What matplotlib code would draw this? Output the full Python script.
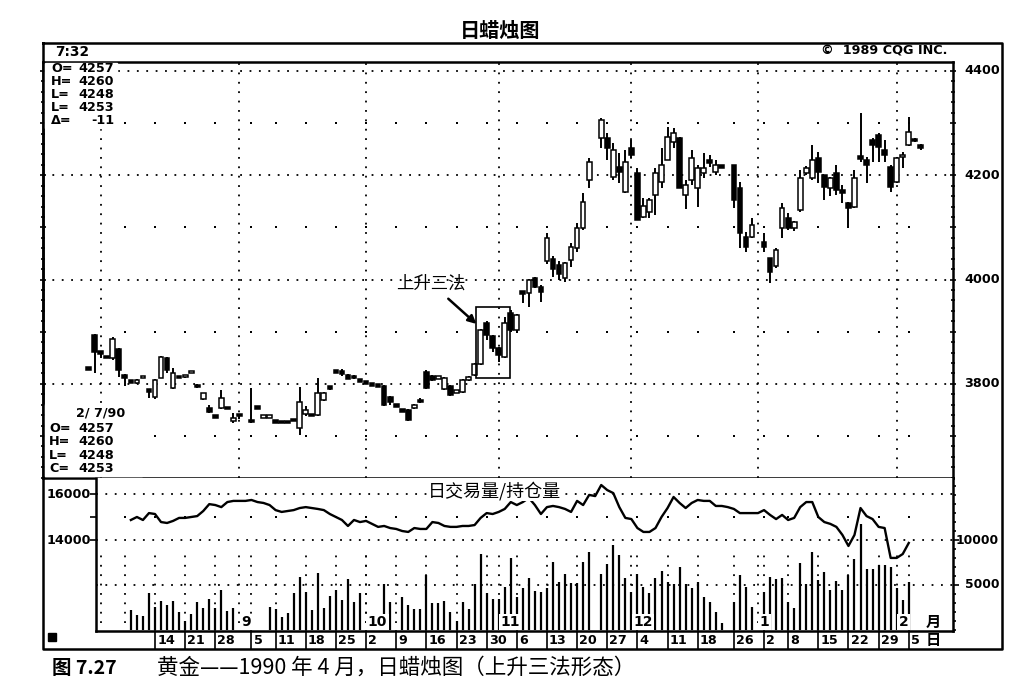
import matplotlib
matplotlib.use("Agg")
import matplotlib.pyplot as plt
import matplotlib.transforms as mtransforms
from matplotlib.patches import Rectangle
from matplotlib.ticker import MultipleLocator

plt.rcParams['font.family'] = ['DejaVu Sans', 'Noto Sans CJK SC']
CJK = ['Noto Sans CJK SC', 'DejaVu Sans']

# ---- data ---------------------------------------------------------------
# x = weekday index counted from Mon 14 Aug 1989; exchange holidays stay empty
holidays = [15, 73, 95, 100]
days = [d for d in range(-11, 128) if d not in holidays]

opens = [3831, 3894, 3861, 3852, 3850, 3867, 3817, 3805, 3801, 3813,
         3788, 3775, 3812, 3850, 3792, 3813, 3813, 3822, 3798, 3771,
         3754, 3739, 3754, 3754, 3729, 3742, 3730, 3756, 3737, 3736,
         3729, 3727, 3727, 3731, 3715, 3742, 3740, 3740, 3769, 3794,
         3824, 3825, 3817, 3815, 3808, 3804, 3800, 3798, 3796, 3775,
         3760, 3750, 3750, 3756, 3769, 3823, 3815, 3811, 3790, 3796,
         3784, 3784, 3808, 3817, 3838, 3917, 3892, 3869, 3852, 3936,
         3903, 3976, 3975, 4003, 3986, 4036, 4040, 4028, 4003, 4038,
         4061, 4099, 4191, 4272, 4272, 4197, 4216, 4168, 4252, 4204,
         4120, 4130, 4162, 4187, 4229, 4264, 4272, 4162, 4191, 4176,
         4204, 4229, 4206, 4217, 4220, 4176, 4082, 4082, 4072, 4041,
         4026, 4099, 4118, 4099, 4133, 4204, 4195, 4233, 4201, 4176,
         4204, 4172, 4147, 4139, 4237, 4229, 4268, 4277, 4249, 4216,
         4187, 4235, 4258, 4268, 4257]
highs = [3833, 3896, 3863, 3853, 3890, 3869, 3819, 3806, 3810, 3815,
         3790, 3810, 3853, 3852, 3831, 3814, 3818, 3825, 3799, 3783,
         3760, 3740, 3788, 3755, 3744, 3743, 3792, 3758, 3740, 3740,
         3731, 3728, 3728, 3732, 3794, 3758, 3741, 3811, 3784, 3796,
         3825, 3829, 3819, 3817, 3810, 3806, 3802, 3800, 3798, 3777,
         3762, 3752, 3752, 3762, 3773, 3827, 3817, 3815, 3813, 3798,
         3788, 3810, 3815, 3840, 3905, 3920, 3894, 3871, 3928, 3942,
         3934, 3977, 4001, 4005, 3990, 4090, 4045, 4035, 4034, 4070,
         4109, 4166, 4233, 4310, 4281, 4262, 4243, 4249, 4268, 4214,
         4156, 4156, 4214, 4252, 4293, 4291, 4274, 4191, 4249, 4220,
         4243, 4239, 4229, 4218, 4220, 4187, 4091, 4118, 4089, 4041,
         4061, 4147, 4128, 4112, 4210, 4218, 4258, 4245, 4201, 4197,
         4220, 4181, 4149, 4210, 4319, 4235, 4272, 4281, 4268, 4220,
         4235, 4245, 4312, 4272, 4260]
lows = [3826, 3821, 3850, 3850, 3846, 3813, 3796, 3803, 3800, 3812,
        3773, 3771, 3811, 3821, 3790, 3812, 3812, 3821, 3793, 3770,
        3744, 3734, 3752, 3753, 3725, 3733, 3725, 3752, 3735, 3735,
        3726, 3726, 3726, 3730, 3702, 3738, 3739, 3738, 3767, 3788,
        3821, 3815, 3809, 3810, 3804, 3800, 3796, 3794, 3758, 3760,
        3756, 3746, 3729, 3752, 3763, 3790, 3806, 3809, 3788, 3777,
        3782, 3782, 3806, 3815, 3836, 3884, 3861, 3842, 3850, 3900,
        3901, 3955, 3948, 3984, 3957, 4030, 4005, 4000, 3995, 4024,
        4053, 4095, 4176, 4252, 4229, 4191, 4185, 4166, 4233, 4114,
        4118, 4118, 4124, 4176, 4229, 4252, 4176, 4135, 4181, 4139,
        4195, 4216, 4201, 4215, 4137, 4061, 4053, 4080, 4053, 3993,
        4022, 4080, 4095, 4094, 4130, 4201, 4191, 4185, 4153, 4160,
        4162, 4147, 4101, 4137, 4226, 4185, 4226, 4226, 4226, 4168,
        4185, 4214, 4256, 4264, 4248]
closes = [3827, 3861, 3859, 3851, 3886, 3827, 3811, 3804, 3808, 3814,
          3786, 3808, 3851, 3827, 3821, 3813, 3817, 3823, 3794, 3782,
          3746, 3735, 3773, 3754, 3735, 3738, 3727, 3754, 3739, 3739,
          3727, 3727, 3727, 3731, 3765, 3750, 3740, 3782, 3782, 3792,
          3823, 3819, 3810, 3812, 3806, 3802, 3798, 3796, 3760, 3765,
          3758, 3748, 3731, 3758, 3765, 3792, 3808, 3813, 3811, 3779,
          3786, 3808, 3813, 3838, 3903, 3894, 3869, 3855, 3917, 3903,
          3932, 3974, 3999, 3986, 3976, 4080, 4020, 4010, 4032, 4063,
          4099, 4149, 4226, 4306, 4252, 4249, 4206, 4226, 4239, 4114,
          4141, 4153, 4204, 4220, 4273, 4281, 4176, 4181, 4233, 4214,
          4214, 4224, 4220, 4216, 4153, 4089, 4063, 4105, 4063, 4015,
          4057, 4137, 4099, 4110, 4195, 4214, 4229, 4206, 4178, 4195,
          4172, 4166, 4137, 4195, 4232, 4220, 4258, 4254, 4239, 4178,
          4233, 4239, 4283, 4268, 4253]

vol_days = list(range(-4, 126))
volume = [2200, 1670, 1560, 4110, 2560, 3220, 2780, 3220, 2000, 1000,
          1780, 3110, 2440, 3440, 2440, 4440, 2110, 2440, None, None,
          None, None, None, 2560, 2330, 1440, 1890, 4110, 5890, 4220,
          2220, 6330, 2440, 3780, 4440, 3330, 5670, 3110, 4110, None,
          None, None, 5110, 3110, None, 3670, 2780, 2330, 2330, 6110,
          3000, 3000, 3220, 2000, 1000, 3110, 2330, 5110, 8440, 4110,
          3440, 3440, 4780, 8000, 3670, 4670, 5780, 4330, 4220, 4670,
          7560, 5330, 6220, 5220, 5220, 7560, 8670, None, 6220, 7330,
          9440, 8330, 5780, 4220, 6220, 4780, 4110, 5780, 6560, 5330,
          5110, 7000, 5110, 4670, 5330, 3670, 3110, 2000, 780, None,
          3110, 6110, 4780, 2560, None, 4220, 5890, 5670, 5780, 3110,
          2440, 7440, 5110, 8670, 5560, 6440, 4440, 5440, 4440, 6110,
          7890, 11780, 6780, 6780, 7220, 7220, 7000, 4670, 3330, 5330]
open_int = [14870, 15000, 14870, 15170, 15130, 14780, 14740, 14830, 14960, 14960,
            15000, 15040, 15260, 15560, 15520, 15430, 15650, 15700, 15700, 15700,
            15740, 15650, 15610, 15520, 15300, 15220, 15260, 15300, 15390, 15430,
            15390, 15350, 15300, 15130, 15000, 14870, 14610, 14870, 14780, 14830,
            14700, 14570, 14610, 14520, 14480, 14390, 14350, 14520, 14480, 14480,
            14780, 14740, 14610, 14570, 14570, 14610, 14610, 14650, 14960, 15170,
            15130, 15220, 15350, 15650, 15520, 15650, 15830, 15520, 15130, 15430,
            15480, 15430, 15350, 15220, 15700, 15520, 15960, 15910, 16390, 16170,
            16040, 15430, 14960, 14910, 14520, 14350, 14350, 14520, 15000, 15390,
            15870, 15610, 15390, 15610, 15740, 15700, 15700, 15480, 15480, 15430,
            15350, 15170, 15170, 15170, 15170, 15300, 15090, 14910, 15090, 14870,
            14960, 15430, 15650, 15650, 15000, 14780, 14700, 14570, 14220, 13740,
            14220, 15390, 15040, 14910, 14570, 14520, 13220, 13220, 13390, 13870]

week_days = [0, 5, 10, 16, 20, 25, 30, 35, 40, 45, 50, 55, 60,
             65, 70, 75, 80, 85, 90, 96, 101, 105, 110, 115, 120, 125]
week_labels = ['14', '21', '28', '5', '11', '18', '25', '2', '9', '16', '23', '30', '6',
               '13', '20', '27', '4', '11', '18', '26', '2', '8', '15', '22', '29', '5']
month_days = [-9, 14, 35, 57, 79, 100, 123]
month_labels = ['', '9', '10', '11', '12', '1', '2']
price_lines = [3800, 4000, 4200, 4400]
price_dots = [3700, 3900, 4100, 4300]
box_days = [54, 58]      # the rising-three-methods pattern

# ---- layout (pixels of the 1022x686 picture) ------------------------------
W, H = 1022, 686
X0, DX = 155, 6.03       # pixel of day 0, pixels per day
FS = 9.2                 # size of the terminal-style labels


def t_of(px):
    return (px - X0) / DX


def rect(x0, y0, x1, y1):
    return [x0 / W, 1 - y1 / H, (x1 - x0) / W, (y1 - y0) / H]


fig = plt.figure(figsize=(W / 100, H / 100), dpi=100)
ax = fig.add_axes(rect(43, 62, 953, 478))
axv = fig.add_axes(rect(96, 478, 953, 631))
axo = axv.twinx()
ov = fig.add_axes([0, 0, 1, 1])
ov.set_xlim(0, W)
ov.set_ylim(H, 0)
ov.axis('off')

dense = (0, (1, 4.2))
LW = 1.8

# ---- price panel ----------------------------------------------------------
ax.set_xlim(t_of(43), t_of(953))
ax.set_ylim(4400 - (478 - 71) * 200 / 104.3, 4400 + 9 * 200 / 104.3)
for p in price_lines:
    ax.axhline(p, color='k', lw=1.3, ls=dense, zorder=1)
for m in month_days:
    ax.axvline(m, color='k', lw=1.3, ls=dense, zorder=1)
grid_days = [-5] + week_days
for p in price_dots:
    ax.scatter(grid_days, [p] * len(grid_days), marker='s', s=2.5, color='k', lw=0, zorder=1)

for t, o, h, l, c in zip(days, opens, highs, lows, closes):
    ax.vlines(t, l, h, color='k', lw=1.4, zorder=3)
    lo, hi = min(o, c), max(o, c)
    if hi - lo < 5:
        mid = (hi + lo) / 2
        lo, hi = mid - 2.5, mid + 2.5
    ax.add_patch(Rectangle((t - 0.39, lo), 0.78, hi - lo,
                           facecolor='k' if c <= o else 'white',
                           edgecolor='k', lw=1.1, zorder=4))

i0, i1 = days.index(box_days[0]), days.index(box_days[1])
b_lo = min(lows[i0:i1 + 1]) - 25
b_hi = max(highs[i0:i1 + 1]) + 19
ax.add_patch(Rectangle((box_days[0] - 0.7, b_lo), box_days[1] - box_days[0] + 1.6, b_hi - b_lo,
                       fill=False, edgecolor='k', lw=1.2, zorder=5))
ax.annotate('上升三法', xy=(box_days[0] - 0.7, 3915), xytext=(t_of(431), 3993),
            family=CJK, fontsize=12.5, ha='center', va='center',
            arrowprops=dict(arrowstyle='-|>', color='k', lw=1.8, mutation_scale=12,
                            shrinkA=4, shrinkB=0))

ax.set_xticks([])
ax.set_yticks(range(3700, 4401, 100))
ax.yaxis.set_minor_locator(MultipleLocator(20))
ax.tick_params(axis='y', which='both', left=True, right=True, direction='inout',
               labelleft=False, labelright=False, width=1.2)
ax.tick_params(axis='y', which='major', length=5)
ax.tick_params(axis='y', which='minor', length=2.5)
for s in ax.spines.values():
    s.set_linewidth(LW)

pt = mtransforms.blended_transform_factory(ov.transData, ax.transData)
for p in price_lines:
    ov.text(1000, p, str(p), transform=pt, ha='right', va='center', fontsize=FS, weight='bold')

# ---- volume / open interest panel -----------------------------------------
axv.set_xlim(t_of(96), t_of(953))
axv.set_ylim(-(631 - 630) * 5000 / 45, (630 - 478) * 5000 / 45)
axo.set_ylim(14000 - (631 - 540) * 2000 / 46, 16000 + (494 - 478) * 2000 / 46)

vd = [d for d, v in zip(vol_days, volume) if v is not None]
vv = [v for v in volume if v is not None]
axv.vlines(vd, 0, vv, color='k', lw=1.6, zorder=3)
axo.plot(vol_days, open_int, color='k', lw=1.7, zorder=3)

axv.axhline(5000, color='k', lw=1.3, ls=dense, zorder=1)
axo.axhline(16000, color='k', lw=1.3, ls=dense, zorder=1)
axo.axhline(14000, color='k', lw=1.3, ls=dense, zorder=1)
axo.scatter(grid_days, [15000] * len(grid_days), marker='s', s=2.5, color='k', lw=0, zorder=1)
for w in grid_days + month_days:
    axv.vlines(w, 800, 8300, color='k', lw=1.3, ls=dense, zorder=1)

for m, lab in zip(month_days, month_labels):
    if lab:
        axv.text(m + 0.3, 900, lab, ha='left', va='center', fontsize=10, weight='bold', zorder=5,
                 bbox=dict(boxstyle='square,pad=0.1', fc='white', ec='none'))

axv.set_xticks([])
axv.yaxis.set_ticks_position('right')
axv.set_yticks([5000, 10000])
axv.yaxis.set_minor_locator(MultipleLocator(1000))
axv.tick_params(axis='y', which='both', direction='out', labelright=False, labelleft=False, width=1.2)
axv.tick_params(axis='y', which='major', length=4)
axv.tick_params(axis='y', which='minor', length=2.5)
axo.yaxis.set_ticks_position('left')
axo.set_yticks([14000, 15000, 16000])
axo.tick_params(axis='y', direction='out', length=4, width=1.2, labelleft=False, labelright=False)
for s in axo.spines.values():
    s.set_visible(False)
axv.spines['top'].set_visible(False)
for s in ['left', 'right', 'bottom']:
    axv.spines[s].set_linewidth(LW)

vt = mtransforms.blended_transform_factory(ov.transData, axv.transData)
ot = mtransforms.blended_transform_factory(ov.transData, axo.transData)
for v in [10000, 5000]:
    ov.text(999, v, str(v), transform=vt, ha='right', va='center', fontsize=FS - 0.4, weight='bold')
for v in [16000, 14000]:
    ov.text(91, v, str(v), transform=ot, ha='right', va='center', fontsize=FS, weight='bold')
ov.text(494, 491, '日交易量/持仓量', family=CJK, fontsize=13, ha='center', va='center',
        bbox=dict(boxstyle='square,pad=0.05', fc='white', ec='none'))

# date row under the volume panel
dt = mtransforms.blended_transform_factory(axv.transData, ov.transData)
for w, lab in zip(week_days, week_labels):
    ov.plot([w, w], [631, 649], color='k', lw=1.2, transform=dt)
    ov.text(w + 0.35, 641, lab, transform=dt, ha='left', va='center', fontsize=FS, weight='bold')
ov.text(933, 622, '月', family=CJK, fontsize=11, weight='bold', ha='center', va='center')
ov.text(933, 640, '日', family=CJK, fontsize=11, weight='bold', ha='center', va='center')
ov.add_patch(Rectangle((48, 633), 8, 8, color='k'))

# ---- frame, header and text blocks ---------------------------------------
ov.plot([43, 1002, 1002, 43, 43], [43, 43, 649, 649, 43], color='k', lw=LW)
ov.text(500, 30, '日蜡烛图', family=CJK, fontsize=14.5, weight='bold', ha='center', va='center')
ov.text(55, 52, '7:32', fontsize=FS + 0.6, weight='bold', va='center')
ov.text(947, 51, '©  1989 CQG INC.', fontsize=FS, weight='bold', va='center', ha='right')

ov.add_patch(Rectangle((45, 63), 72, 65, color='white', zorder=2))
top_block = [('O=', '4257'), ('H=', '4260'), ('L=', '4248'), ('L=', '4253'), ('Δ=', '-11')]
for i, (lab, val) in enumerate(top_block):
    ov.text(51, 69 + 12.9 * i, lab, fontsize=FS, weight='bold', va='center', zorder=3)
    ov.text(114, 69 + 12.9 * i, val, fontsize=FS, weight='bold', va='center', ha='right', zorder=3)

ov.add_patch(Rectangle((45, 404), 97, 72, color='white', zorder=2))
ov.text(76, 413, '2/ 7/90', fontsize=FS, weight='bold', va='center', zorder=3)
bottom_block = [('O=', '4257'), ('H=', '4260'), ('L=', '4248'), ('C=', '4253')]
for i, (lab, val) in enumerate(bottom_block):
    ov.text(49, 428 + 13.6 * i, lab, fontsize=FS, weight='bold', va='center', zorder=3)
    ov.text(114, 428 + 13.6 * i, val, fontsize=FS, weight='bold', va='center', ha='right', zorder=3)

ov.text(52, 668, '图 7.27', family=CJK, fontsize=14, weight='bold', va='center')
ov.text(157, 668, '黄金——1990 年 4 月，日蜡烛图（上升三法形态）', family=CJK, fontsize=15.5,
        va='center')

fig.savefig('out.png', dpi=100)
